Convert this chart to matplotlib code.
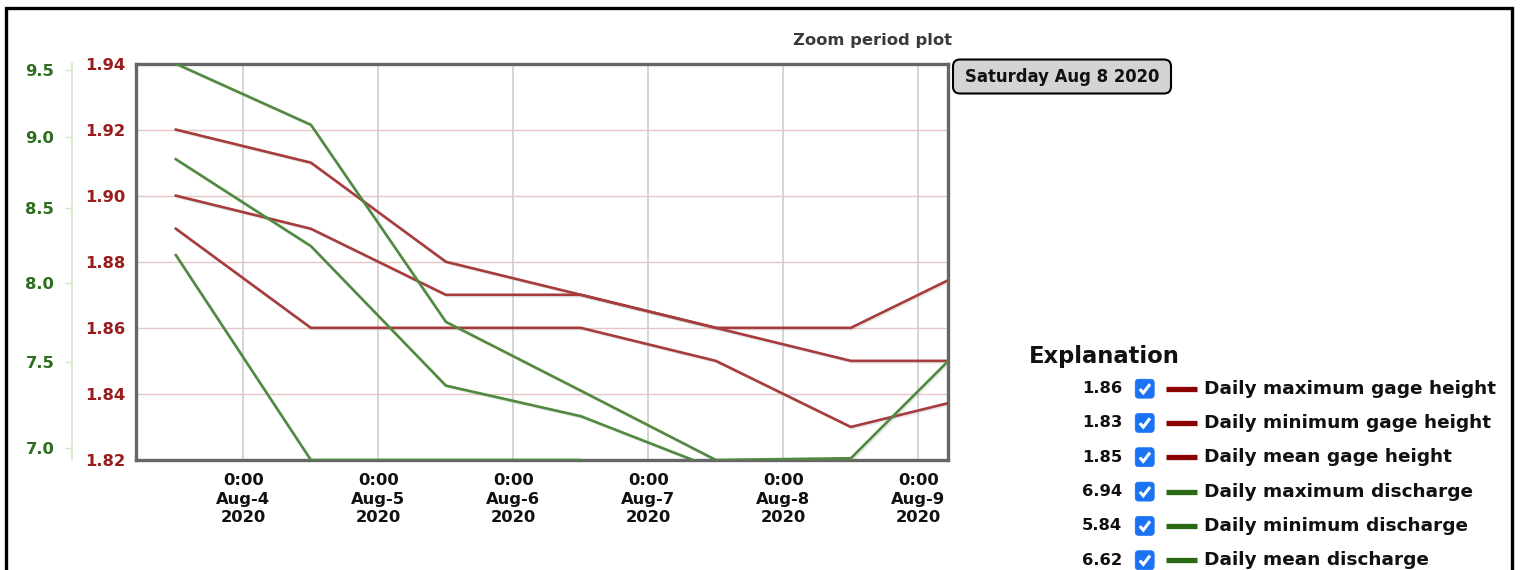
import matplotlib
matplotlib.use('Agg')
import matplotlib.pyplot as plt
import matplotlib.dates as mdates
import matplotlib.ticker as mticker
import matplotlib.patheffects as pe
from matplotlib.patches import FancyBboxPatch, Rectangle
from matplotlib.lines import Line2D
from matplotlib.transforms import IdentityTransform
import pandas as pd

plt.rcParams['font.family'] = ['DejaVu Sans']
plt.rcParams['font.weight'] = 'bold'

# ---------------- data ----------------
dates = pd.to_datetime(['2020-08-03 12:00', '2020-08-04 12:00', '2020-08-05 12:00',
                        '2020-08-06 12:00', '2020-08-07 12:00', '2020-08-08 12:00',
                        '2020-08-09 12:00'])
gh_max = [1.92, 1.91, 1.88, 1.87, 1.86, 1.86, 1.88]
gh_min = [1.89, 1.86, 1.86, 1.86, 1.85, 1.83, 1.84]
gh_mean = [1.90, 1.89, 1.87, 1.87, 1.86, 1.85, 1.85]
q_max = [9.55, 9.09, 7.75, 7.33, 6.93, 6.94, 7.74]
q_min = [8.18, 6.93, 6.93, 6.93, 6.20, 5.84, 6.00]
q_mean = [8.84, 8.24, 7.36, 7.18, 6.88, 6.62, 6.70]

gh_ticks = [1.82, 1.84, 1.86, 1.88, 1.90, 1.92, 1.94]
q_ticks = [7.0, 7.5, 8.0, 8.5, 9.0, 9.5]
x_ticks = pd.date_range('2020-08-04', '2020-08-09', freq='D')
x_limits = (pd.Timestamp('2020-08-03 04:53'), pd.Timestamp('2020-08-09 05:16'))
gh_limits = (1.82, 1.94)
q_limits = (6.93, 9.552)

title = 'Zoom period plot'
tooltip = 'Saturday Aug 8 2020'
sel_index = 5  # Aug 8
legend_title = 'Explanation'
series_names = ['Daily maximum gage height', 'Daily minimum gage height', 'Daily mean gage height',
                'Daily maximum discharge', 'Daily minimum discharge', 'Daily mean discharge']

# ---------------- figure ----------------
W, H = 1520, 570
fig = plt.figure(figsize=(W / 100, H / 100), dpi=100)
fig.patch.set_facecolor('white')

L, R, T, B = 135.8, 948.0, 63.5, 460.0
ax = fig.add_axes([L / W, 1 - B / H, (R - L) / W, (B - T) / H])
ax2 = ax.twinx()

RED_LINE = '#a63c3c'
GREEN_LINE = '#4f8a40'
RED_LBL = '#9a1c1c'
GREEN_LBL = '#2d6e1e'
shadow = [pe.SimpleLineShadow(offset=(1.0, -1.0), shadow_color='#888888', alpha=0.2), pe.Normal()]

for s in (gh_max, gh_min, gh_mean):
    ax.plot(dates, s, color=RED_LINE, lw=1.9, zorder=3, path_effects=shadow, solid_joinstyle='miter')
for s in (q_max, q_min, q_mean):
    ax2.plot(dates, s, color=GREEN_LINE, lw=1.9, zorder=3, path_effects=shadow, solid_joinstyle='miter')

# red axis
ax.set_xlim(*x_limits)
ax.set_ylim(*gh_limits)
ax.set_yticks(gh_ticks)
ax.yaxis.set_major_formatter(mticker.FormatStrFormatter('%.2f'))
ax.tick_params(axis='y', length=0, pad=7.8, labelsize=11.8, labelcolor=RED_LBL)
ax.set_xticks(x_ticks)
ax.xaxis.set_major_formatter(mticker.FuncFormatter(
    lambda v, p: (lambda d: f"{d.hour}:{d.minute:02d}\n{d.strftime('%b')}-{d.day}\n{d.year}")(mdates.num2date(v))))
ax.tick_params(axis='x', length=0, pad=9.5, labelsize=11.8, labelcolor='#111111')
for lbl in ax.get_xticklabels():
    lbl.set_linespacing(1.3)
ax.grid(axis='x', color='#d2d2d2', lw=1.3)
ax.grid(axis='y', color='#e9c6c6', lw=1.0)
ax.set_axisbelow(True)
for sp in ax.spines.values():
    sp.set_color('#666666')
    sp.set_linewidth(2.4)
    sp.set_zorder(2.5)

# green axis (log scale, on left, outward)
ax2.set_yscale('log')
ax2.set_ylim(*q_limits)
ax2.yaxis.set_major_locator(mticker.FixedLocator(q_ticks))
ax2.yaxis.set_minor_locator(mticker.NullLocator())
ax2.yaxis.set_major_formatter(mticker.FormatStrFormatter('%.1f'))
ax2.yaxis.set_ticks_position('left')
ax2.yaxis.set_label_position('left')
for k in ('top', 'bottom', 'right'):
    ax2.spines[k].set_visible(False)
ax2.spines['left'].set_visible(True)
ax2.spines['left'].set_position(('outward', 46.1))
ax2.spines['left'].set_color('#d3e6cb')
ax2.spines['left'].set_linewidth(1.2)
ax2.tick_params(axis='y', which='major', length=5, width=1, color='#d3e6cb',
                pad=7.6, labelsize=11.8, labelcolor=GREEN_LBL)

# ---------------- decorations (pixel coordinates) ----------------
ident = IdentityTransform()

def py(y):
    return H - y

# outer border
fig.patches.append(Rectangle((5.5, py(600)), 1512 - 5.5, 600 - 7.5, transform=ident,
                             fill=False, ec='black', lw=2.4, figure=fig))

fig.text(872.5 / W, 1 - 40 / H, title, ha='center', va='center', fontsize=11.8,
         color='#3a3a3a')

# tooltip
fig.patches.append(FancyBboxPatch((953, py(93.5)), 218, 34, transform=ident,
                                  boxstyle='round,pad=0,rounding_size=7',
                                  fc='#d4d4d4', ec='black', lw=1.5, figure=fig))
fig.text(1062 / W, 1 - 77 / H, tooltip, ha='center', va='center', fontsize=11.9, color='#111111')

# legend
fig.text(1029.3 / W, 1 - 363.3 / H, legend_title, ha='left', va='baseline', fontsize=16.3,
         color='#111111')
all_series = [gh_max, gh_min, gh_mean, q_max, q_min, q_mean]
swatch_colors = ['#8b0000'] * 3 + ['#2a6a14'] * 3
row_y = [388.7, 422.9, 457.2, 491.6, 525.9, 560.2]
for name, s, c, yc in zip(series_names, all_series, swatch_colors, row_y):
    fig.text(1122 / W, 1 - yc / H, f"{s[sel_index]:.2f}", ha='right', va='center',
             fontsize=11.8, color='#111111')
    fig.patches.append(FancyBboxPatch((1135.2, py(yc + 9.5)), 19, 19, transform=ident,
                                      boxstyle='round,pad=0,rounding_size=3.5',
                                      fc='#1a73f2', ec='#1a73f2', lw=0.5, figure=fig))
    fig.lines.append(Line2D([1139.8, 1143.3, 1150.0], [py(yc + 0.3), py(yc + 4.2), py(yc - 4.6)],
                            transform=ident, color='white', lw=2.2, solid_capstyle='butt',
                            solid_joinstyle='miter', figure=fig))
    fig.lines.append(Line2D([1166, 1197], [py(yc), py(yc)], transform=ident, color=c,
                            lw=3.8, solid_capstyle='butt', figure=fig))
    fig.text(1204 / W, 1 - yc / H, name, ha='left', va='center', fontsize=13.3, color='#111111')

fig.savefig('out.png', dpi=100, facecolor='white')
